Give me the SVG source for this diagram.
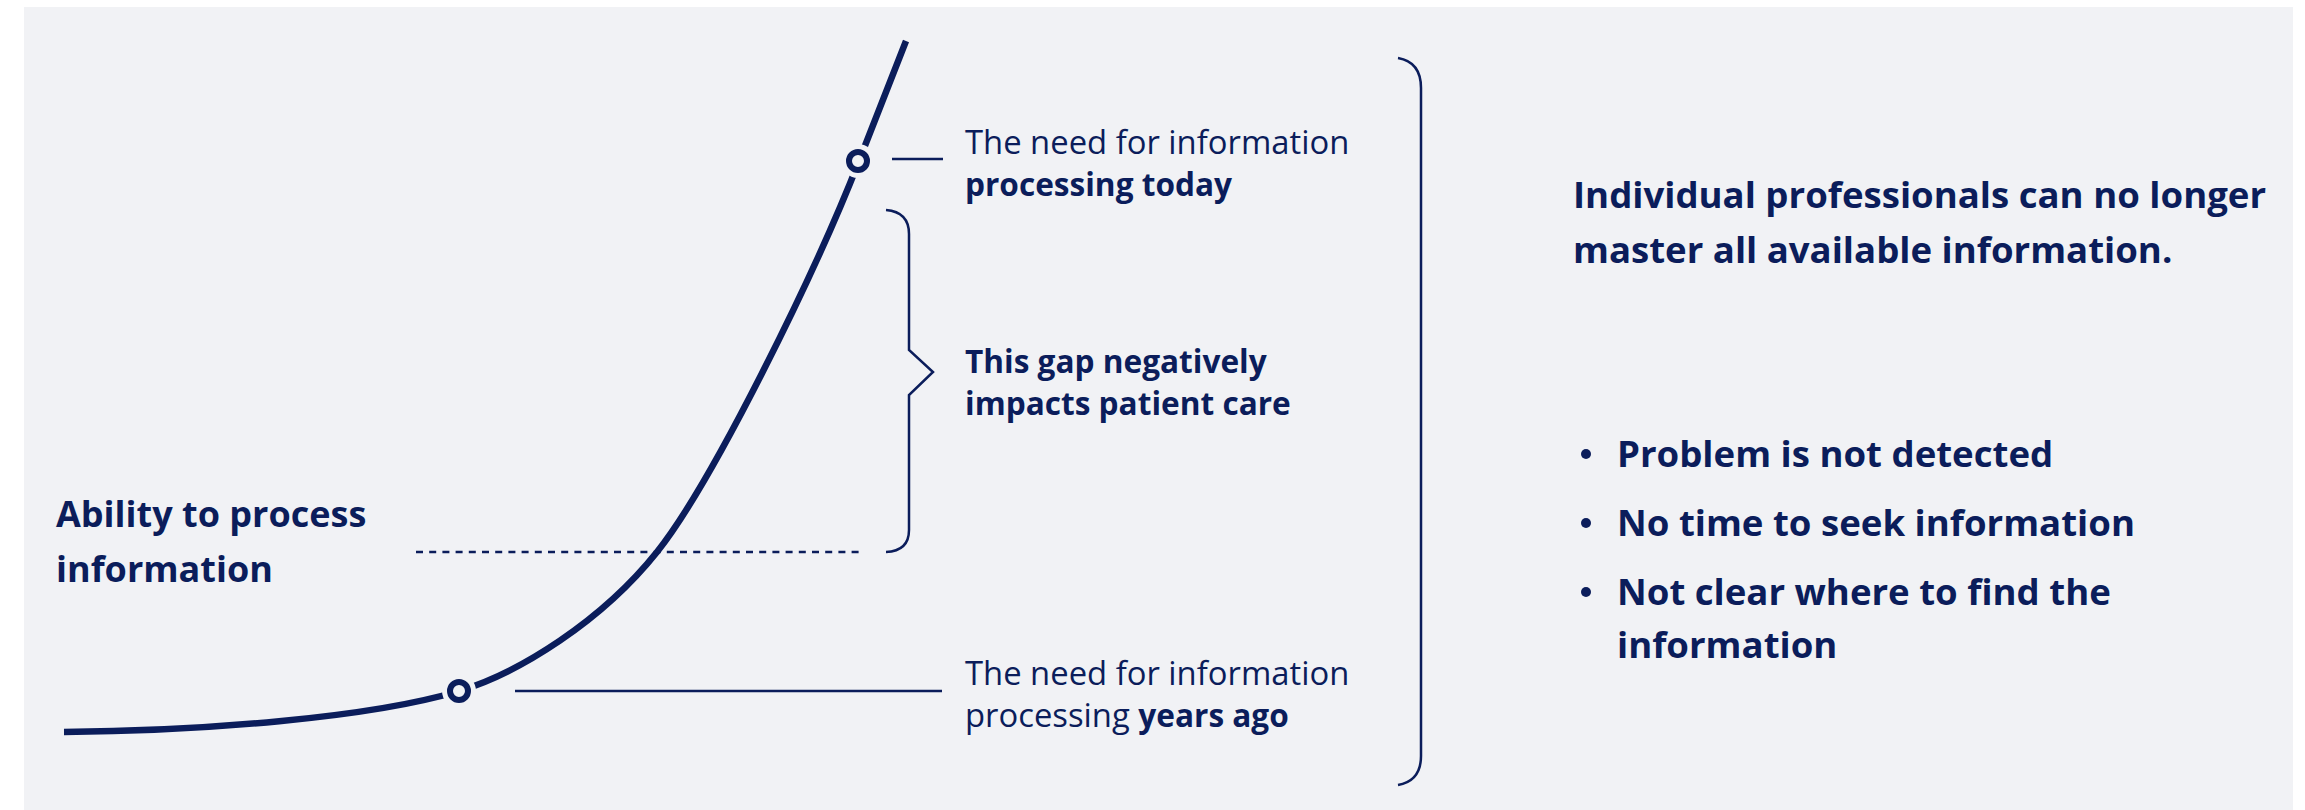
<svg xmlns="http://www.w3.org/2000/svg" width="2305" height="810" viewBox="0 0 2305 810">
<style>
.t{font-family:"Open Sans","Noto Sans","Liberation Sans",sans-serif;fill:#0b1d5b}
.r{font-size:32.8px;font-weight:400}
.b{font-size:31.6px;font-weight:700}
.lab{font-size:36px;font-weight:700}
.big{font-size:36.6px;font-weight:700}
.thin{fill:none;stroke:#0b1d5b;stroke-width:2.5}
</style>
<rect x="0" y="0" width="2305" height="810" fill="#ffffff"/>
<rect x="24" y="7" width="2269" height="803" fill="#f1f2f5"/>
<g id="connectors">
<path d="M64,732 C200,731 370,718 459,691 C519,673 602,621 657,552 C712,483 814,276 859,161 C875,120 890,82 906,41" fill="none" stroke="#0b1d5b" stroke-width="6.5" stroke-linecap="butt"/>
<line x1="892" y1="159" x2="943" y2="159" class="thin"/>
<line x1="515" y1="691" x2="942" y2="691" class="thin"/>
<line x1="416" y1="552" x2="864" y2="552" class="thin" stroke-dasharray="7 6.2"/>
<path d="M886,210 Q909,212 909,234 L909,350 L933,372 L909,395 L909,530 Q909,551 886,552" class="thin"/>
<path d="M1398,58 Q1421,62 1421,88 L1421,756 Q1421,781 1398,785" class="thin"/>
</g>
<g id="node-today">
<circle cx="858" cy="161" r="17" fill="#f1f2f5"/>
<circle cx="858" cy="161" r="9" fill="#f1f2f5" stroke="#0b1d5b" stroke-width="6"/>
<text class="t r" x="965" y="154">The need for information</text>
<text class="t b" x="965" y="196">processing today</text>
</g>
<g id="node-past">
<circle cx="459" cy="691" r="17" fill="#f1f2f5"/>
<circle cx="459" cy="691" r="9" fill="#f1f2f5" stroke="#0b1d5b" stroke-width="6"/>
<text class="t r" x="965" y="685">The need for information</text>
<text class="t r" x="965" y="727">processing <tspan class="b">years ago</tspan></text>
</g>
<g id="node-gap">
<text class="t b" x="965" y="373">This gap negatively</text>
<text class="t b" x="965" y="415">impacts patient care</text>
</g>
<g id="node-ability">
<text class="t lab" x="56" y="527">Ability to process</text>
<text class="t lab" x="56" y="582">information</text>
</g>
<g id="node-summary">
<text class="t big" x="1573" y="208">Individual professionals can no longer</text>
<text class="t big" x="1573" y="263">master all available information.</text>
</g>
<g id="node-bullets">
<circle cx="1586" cy="454" r="5" fill="#0b1d5b"/>
<circle cx="1586" cy="523" r="5" fill="#0b1d5b"/>
<circle cx="1586" cy="592" r="5" fill="#0b1d5b"/>
<text class="t big" x="1617" y="467">Problem is not detected</text>
<text class="t big" x="1617" y="536">No time to seek information</text>
<text class="t big" x="1617" y="605">Not clear where to find the</text>
<text class="t big" x="1617" y="658">information</text>
</g>
</svg>
